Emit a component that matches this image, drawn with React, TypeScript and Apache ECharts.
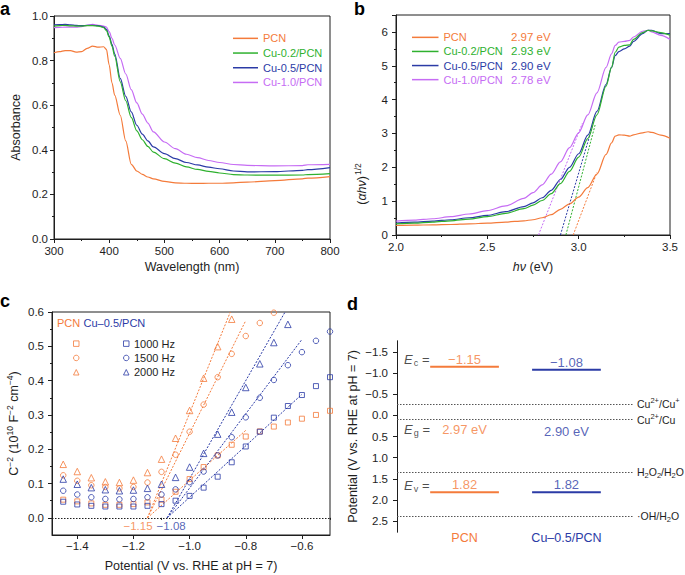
import React, { useEffect, useRef } from 'react';
import * as echarts from 'echarts';

// ---------- colours & fonts ----------
const ORANGE = '#F47B3B';
const GREEN = '#2FB12F';
const BLUE = '#2B3BA6';
const PURPLE = '#C66CF4';
const INK = '#1e1e1e';
const FONT = '"Liberation Sans", Arial, Helvetica, sans-serif';

// ---------- panel a : absorbance ----------
const wavelengths = [300, 310, 320, 330, 340, 350, 360, 370, 380, 390, 395, 400, 405, 410, 420, 430, 440, 450, 460, 470, 480, 500, 520, 540, 560, 580, 600, 625, 650, 700, 750, 760, 800];
const absPCN = [0.835, 0.84, 0.845, 0.845, 0.838, 0.84, 0.855, 0.865, 0.86, 0.862, 0.85, 0.78, 0.7, 0.645, 0.555, 0.44, 0.335, 0.305, 0.29, 0.278, 0.27, 0.258, 0.252, 0.25, 0.249, 0.25, 0.25, 0.252, 0.255, 0.262, 0.27, 0.273, 0.28];
const absCu02 = [0.955, 0.957, 0.958, 0.956, 0.955, 0.955, 0.957, 0.957, 0.955, 0.948, 0.935, 0.905, 0.865, 0.82, 0.705, 0.62, 0.545, 0.485, 0.445, 0.415, 0.39, 0.36, 0.34, 0.323, 0.312, 0.303, 0.296, 0.289, 0.287, 0.286, 0.287, 0.289, 0.293];
const absCu05 = [0.96, 0.961, 0.962, 0.96, 0.958, 0.957, 0.958, 0.958, 0.957, 0.95, 0.94, 0.91, 0.873, 0.83, 0.72, 0.64, 0.57, 0.51, 0.47, 0.44, 0.413, 0.383, 0.36, 0.343, 0.332, 0.322, 0.315, 0.305, 0.301, 0.302, 0.308, 0.311, 0.32];
const absCu10 = [0.948, 0.949, 0.95, 0.95, 0.95, 0.952, 0.958, 0.962, 0.958, 0.955, 0.95, 0.93, 0.9, 0.87, 0.81, 0.74, 0.67, 0.61, 0.56, 0.52, 0.48, 0.435, 0.405, 0.38, 0.365, 0.352, 0.343, 0.334, 0.33, 0.328, 0.329, 0.333, 0.335];

const sampleNames = ['PCN', 'Cu-0.2/PCN', 'Cu-0.5/PCN', 'Cu-1.0/PCN'];
const sampleColors = [ORANGE, GREEN, BLUE, PURPLE];

// ---------- panel b : Tauc plot ----------
const energies = [2.0, 2.1, 2.2, 2.3, 2.4, 2.5, 2.6, 2.7, 2.75, 2.8, 2.85, 2.9, 2.95, 3.0, 3.05, 3.1, 3.15, 3.18, 3.2, 3.22, 3.25, 3.28, 3.3, 3.35, 3.38, 3.4, 3.45, 3.5];
const taucPCN = [0.28, 0.29, 0.3, 0.31, 0.33, 0.35, 0.38, 0.42, 0.45, 0.51, 0.6, 0.76, 0.92, 1.12, 1.4, 1.8, 2.38, 2.72, 2.92, 2.96, 2.95, 2.92, 2.96, 3.02, 3.05, 3.03, 2.95, 2.86];
const taucCu02 = [0.33, 0.35, 0.38, 0.42, 0.47, 0.54, 0.64, 0.78, 0.88, 1.02, 1.22, 1.52, 1.88, 2.3, 2.85, 3.55, 4.4, 4.95, 5.4, 5.55, 5.6, 5.62, 5.78, 5.98, 6.05, 6.03, 5.98, 5.9];
const taucCu05 = [0.35, 0.38, 0.41, 0.45, 0.51, 0.58, 0.69, 0.84, 0.95, 1.1, 1.32, 1.64, 2.0, 2.4, 2.95, 3.65, 4.45, 4.95, 5.3, 5.42, 5.5, 5.58, 5.72, 5.95, 6.05, 6.05, 5.95, 5.95];
const taucCu10 = [0.41, 0.44, 0.48, 0.54, 0.62, 0.72, 0.86, 1.08, 1.25, 1.48, 1.8, 2.16, 2.58, 3.02, 3.55, 4.2, 4.95, 5.35, 5.6, 5.7, 5.72, 5.75, 5.85, 6.02, 6.05, 6.0, 5.9, 5.78];
const bandGaps = [2.97, 2.93, 2.9, 2.78];
const tangentEndX = [3.1, 3.09, 3.075, 3.02];
const tangentEndY = [1.85, 3.25, 3.2, 3.3];

// ---------- panel c : Mott–Schottky ----------
const potentials = [-1.45, -1.4, -1.35, -1.3, -1.25, -1.2, -1.15, -1.1, -1.05, -1.0, -0.95, -0.9, -0.85, -0.8, -0.75, -0.7, -0.65, -0.6, -0.55, -0.5];
const msPCN1000 = [0.053, 0.048, 0.042, 0.038, 0.038, 0.04, 0.045, 0.053, 0.076, 0.113, 0.148, 0.182, 0.213, 0.237, 0.252, 0.266, 0.278, 0.289, 0.3, 0.312];
const msPCN1500 = [0.124, 0.108, 0.095, 0.09, 0.086, 0.09, 0.103, 0.134, 0.184, 0.251, 0.33, 0.41, 0.478, 0.53, 0.568, 0.598, null, null, null, null];
const msPCN2000 = [0.156, 0.135, 0.117, 0.105, 0.103, 0.11, 0.132, 0.171, 0.232, 0.313, 0.407, 0.499, 0.579, null, null, null, null, null, null, null];
const msCu1000 = [0.047, 0.039, 0.035, 0.033, 0.033, 0.033, 0.035, 0.04, 0.05, 0.064, 0.088, 0.12, 0.162, 0.208, 0.251, 0.292, 0.326, 0.358, 0.384, 0.41];
const msCu1500 = [0.079, 0.068, 0.06, 0.055, 0.054, 0.055, 0.06, 0.068, 0.083, 0.104, 0.135, 0.182, 0.235, 0.293, 0.35, 0.402, 0.445, 0.483, 0.516, 0.543];
const msCu2000 = [0.113, 0.098, 0.088, 0.082, 0.079, 0.081, 0.086, 0.098, 0.118, 0.148, 0.188, 0.244, 0.308, 0.38, 0.449, 0.511, 0.564, null, null, null];
const frequencies = ['1000 Hz', '1500 Hz', '2000 Hz'];
const msSymbols = ['rect', 'circle', 'triangle'];
const flatBandPCN = -1.15;
const flatBandCu = -1.08;
const fitEndPCNX = [-0.8, -0.8, -0.855];
const fitEndPCNY = [0.255, 0.575, 0.6];
const fitEndCuX = [-0.6, -0.6, -0.66];
const fitEndCuY = [0.36, 0.52, 0.6];

// ---------- panel d : band positions ----------
const bandSamples = ['PCN', 'Cu\u20130.5/PCN'];
const bandColors = [ORANGE, BLUE];
const bandEc = [-1.15, -1.08];
const bandEv = [1.82, 1.82];
const bandEg = [2.97, 2.9];
const redoxNames = ['Cu{sup|2+}/Cu{sup|+}', 'Cu{sup|2+}/Cu', 'H{sub|2}O{sub|2}/H{sub|2}O', '\u00b7OH/H{sub|2}O'];
const redoxPotentials = [-0.26, 0.1, 1.35, 2.39];

// layout constants (panel d x positions, normalised 0..1)
const D_CENTERS = [0.285, 0.715];
const D_HALF = 0.145;
const D_ELABEL_X = 0.03;

const minus = (v: number, d = 1) => (v < 0 ? '\u2212' : '') + Math.abs(v).toFixed(d);
const zip = (xs: number[], ys: (number | null)[]) =>
  xs.map((x, i) => [x, ys[i]]).filter((p) => p[1] != null);

const tickStyle = { color: INK, width: 1 };
const axisBase = (extra: any) => ({
  type: 'value',
  axisLine: { show: true, onZero: false, lineStyle: { color: INK, width: 1 } },
  axisTick: { show: true, length: 4, lineStyle: tickStyle },
  minorTick: { show: true, splitNumber: 2, length: 2, lineStyle: tickStyle },
  splitLine: { show: false },
  minorSplitLine: { show: false },
  nameLocation: 'middle',
  nameTextStyle: { color: INK, fontSize: 12.5, fontFamily: FONT },
  ...extra,
  axisLabel: { color: INK, fontSize: 11.5, fontFamily: FONT, ...(extra.axisLabel || {}) },
});
const minorOnly = (extra: any) => ({
  type: 'value',
  axisLine: { show: false },
  axisLabel: { show: false },
  splitLine: { show: false },
  ...extra,
});

function buildOption() {
  const series: any[] = [];
  const absData = [absPCN, absCu02, absCu05, absCu10];
  const taucData = [taucPCN, taucCu02, taucCu05, taucCu10];

  sampleNames.forEach((name, i) => {
    series.push({
      type: 'line', name, xAxisIndex: 0, yAxisIndex: 0, data: zip(wavelengths, absData[i]),
      color: sampleColors[i], symbol: 'none', smooth: 0.3, smoothMonotone: 'x',
      lineStyle: { width: 1.2 }, z: 5 - i,
    });
  });
  sampleNames.forEach((name, i) => {
    series.push({
      type: 'line', name, xAxisIndex: 1, yAxisIndex: 1, data: zip(energies, taucData[i]),
      color: sampleColors[i], symbol: 'none', smooth: 0.3, smoothMonotone: 'x',
      lineStyle: { width: 1.2 }, z: 5 - i,
    });
  });
  sampleNames.forEach((name, i) => {
    series.push({
      type: 'line', name: name + ' tangent', xAxisIndex: 1, yAxisIndex: 1,
      data: [[bandGaps[i], 0], [tangentEndX[i], tangentEndY[i]]],
      color: sampleColors[i], symbol: 'none', lineStyle: { width: 1, type: [2, 1.5] }, silent: true,
    });
  });

  // panel c
  const pcnSets = [msPCN1000, msPCN1500, msPCN2000];
  const cuSets = [msCu1000, msCu1500, msCu2000];
  const symSizes = [5, 5.5, 6.5];
  frequencies.forEach((f, i) => {
    series.push({
      type: 'scatter', name: 'PCN ' + f, xAxisIndex: 2, yAxisIndex: 2, data: zip(potentials, pcnSets[i]),
      symbol: msSymbols[i], symbolSize: symSizes[i], z: 4,
      itemStyle: { color: 'rgba(255,255,255,0)', borderColor: ORANGE, borderWidth: 1 },
    });
    series.push({
      type: 'scatter', name: 'Cu\u20130.5/PCN ' + f, xAxisIndex: 2, yAxisIndex: 2, data: zip(potentials, cuSets[i]),
      symbol: msSymbols[i], symbolSize: symSizes[i], z: 4,
      itemStyle: { color: 'rgba(255,255,255,0)', borderColor: BLUE, borderWidth: 1 },
    });
  });
  frequencies.forEach((f, i) => {
    series.push({
      type: 'line', name: 'PCN fit ' + f, xAxisIndex: 2, yAxisIndex: 2,
      data: [[flatBandPCN, 0], [fitEndPCNX[i], fitEndPCNY[i]]],
      color: ORANGE, symbol: 'none', lineStyle: { width: 1, type: [2, 1.5] }, silent: true,
      markLine: i === 0 ? {
        silent: true, symbol: ['none', 'none'], label: { show: false },
        lineStyle: { color: INK, width: 1, type: [1.5, 1.5] },
        data: [{ yAxis: 0 }],
      } : undefined,
    });
    series.push({
      type: 'line', name: 'Cu fit ' + f, xAxisIndex: 2, yAxisIndex: 2,
      data: [[flatBandCu, 0], [fitEndCuX[i], fitEndCuY[i]]],
      color: BLUE, symbol: 'none', lineStyle: { width: 1, type: [2, 1.5] }, silent: true,
    });
  });
  series.push({
    type: 'scatter', name: 'flat band labels', xAxisIndex: 2, yAxisIndex: 2, symbolSize: 0, silent: true,
    data: [
      { value: [flatBandPCN, 0], label: { color: ORANGE, offset: [-9.5, 0] } },
      { value: [flatBandCu, 0], label: { color: BLUE, offset: [4, 0] } },
    ],
    label: {
      show: true, position: 'bottom', distance: 2.5, fontSize: 11.5, fontFamily: FONT,
      formatter: (p: any) => minus(p.value[0], 2),
    },
  });

  // panel d
  bandSamples.forEach((name, i) => {
    const x0 = D_CENTERS[i] - D_HALF;
    const x1 = D_CENTERS[i] + D_HALF;
    series.push({
      type: 'line', name: name + ' Ec', xAxisIndex: 4, yAxisIndex: 4, data: [[x0, bandEc[i]], [x1, bandEc[i]]],
      color: bandColors[i], symbol: 'none', lineStyle: { width: 2 }, silent: true,
      markLine: i === 0 ? {
        silent: true, symbol: ['none', 'none'],
        lineStyle: { color: '#555', width: 1, type: [1.5, 1.5] },
        label: {
          show: true, position: 'end', distance: 3, color: INK, fontSize: 10.5, fontFamily: FONT,
          formatter: (p: any) => p.name,
          rich: {
            sup: { fontSize: 7.5, padding: [0, 0, 7, 0], color: INK, fontFamily: FONT },
            sub: { fontSize: 7.5, padding: [6, 0, 0, 0], color: INK, fontFamily: FONT },
          },
        },
        data: redoxPotentials.map((v, k) => ({ yAxis: v, name: redoxNames[k] })),
      } : undefined,
    });
    series.push({
      type: 'line', name: name + ' Ev', xAxisIndex: 4, yAxisIndex: 4, data: [[x0, bandEv[i]], [x1, bandEv[i]]],
      color: bandColors[i], symbol: 'none', lineStyle: { width: 2 }, silent: true,
    });
    series.push({
      type: 'scatter', name: name + ' values', xAxisIndex: 4, yAxisIndex: 4, symbolSize: 0, silent: true,
      label: { show: true, position: 'inside', color: bandColors[i], fontSize: 13, fontFamily: FONT },
      data: [
        { value: [D_CENTERS[i], bandEc[i]], label: { verticalAlign: 'bottom', offset: [0, -1], formatter: minus(bandEc[i], 2) } },
        { value: [D_CENTERS[i], (bandEc[i] + bandEv[i]) / 2], label: { verticalAlign: 'middle', formatter: bandEg[i].toFixed(2) + ' eV' } },
        { value: [D_CENTERS[i], bandEv[i]], label: { verticalAlign: 'bottom', offset: [0, -1], formatter: minus(bandEv[i], 2) } },
      ],
    });
  });
  series.push({
    type: 'scatter', name: 'E labels', xAxisIndex: 4, yAxisIndex: 4, symbolSize: 0, silent: true,
    label: {
      show: true, position: 'inside', align: 'left', color: INK, fontSize: 13, fontFamily: FONT,
      rich: {
        e: { fontStyle: 'italic', fontSize: 13, color: INK, fontFamily: FONT },
        s: { fontSize: 9, padding: [7, 0, 0, 1], color: INK, fontFamily: FONT },
        t: { fontSize: 13, color: INK, fontFamily: FONT },
      },
    },
    data: [
      { value: [D_ELABEL_X, bandEc[0]], label: { verticalAlign: 'bottom', offset: [0, 1], formatter: '{e|E}{s|c}{t| =}' } },
      { value: [D_ELABEL_X, (bandEc[0] + bandEv[0]) / 2], label: { verticalAlign: 'middle', formatter: '{e|E}{s|g}{t| =}' } },
      { value: [D_ELABEL_X, bandEv[0]], label: { verticalAlign: 'bottom', offset: [0, 1], formatter: '{e|E}{s|v}{t| =}' } },
    ],
  });

  const cTicksX = [-1.4, -1.2, -1.0, -0.8, -0.6];
  const cMinorX = [-1.3, -1.1, -0.9, -0.7, -0.5];
  const cTicksY = [0, 0.1, 0.2, 0.3, 0.4, 0.5, 0.6];
  const cMinorY = [0.05, 0.15, 0.25, 0.35, 0.45, 0.55];
  const dTicks = [-1.5, -1.0, -0.5, 0, 0.5, 1.0, 1.5, 2.0, 2.5];

  const legendText = { fontFamily: FONT, fontSize: 11 };

  return {
    animation: false,
    backgroundColor: '#ffffff',
    textStyle: { fontFamily: FONT },
    grid: [
      { left: 54, top: 16, width: 276, height: 223, show: true, borderColor: INK, borderWidth: 1 },
      { left: 396, top: 15, width: 274, height: 220, show: true, borderColor: INK, borderWidth: 1 },
      { left: 52, top: 312, width: 278, height: 223, show: true, borderColor: INK, borderWidth: 1 },
      { left: 397, top: 341, width: 237, height: 191, show: false },
    ],
    xAxis: [
      axisBase({ gridIndex: 0, position: 'bottom', min: 300, max: 800, interval: 100, name: 'Wavelength (nm)', nameGap: 21, axisLabel: { margin: 6 } }),
      axisBase({
        gridIndex: 1, position: 'bottom', min: 2, max: 3.5, interval: 0.5, name: '{i|h\u03bd} (eV)', nameGap: 25,
        nameTextStyle: { color: INK, fontSize: 12.5, fontFamily: FONT, rich: { i: { fontStyle: 'italic', fontSize: 12.5, fontFamily: FONT, color: INK } } },
        axisLabel: { margin: 6, formatter: (v: number) => v.toFixed(1) },
      }),
      axisBase({
        gridIndex: 2, position: 'bottom', min: -1.49, max: -0.5, name: 'Potential (V vs. RHE at pH = 7)', nameGap: 24,
        minorTick: { show: false },
        axisTick: { show: true, length: 4, lineStyle: tickStyle, customValues: cTicksX },
        axisLabel: { margin: 5, customValues: cTicksX, formatter: (v: number) => minus(v, 1) },
      }),
      minorOnly({ gridIndex: 2, position: 'bottom', min: -1.49, max: -0.5, axisTick: { show: true, length: 2, lineStyle: tickStyle, customValues: cMinorX } }),
      {
        type: 'value', gridIndex: 3, position: 'bottom', min: 0, max: 1,
        axisLine: { show: false }, axisTick: { show: false }, splitLine: { show: false },
        axisLabel: {
          show: true, margin: -1, fontSize: 12.5, fontFamily: FONT, customValues: D_CENTERS,
          formatter: (v: number) => bandSamples[Math.abs(v - D_CENTERS[0]) < 0.01 ? 0 : 1],
          color: (v: number) => bandColors[Math.abs(v - D_CENTERS[0]) < 0.01 ? 0 : 1],
        },
      },
    ],
    yAxis: [
      axisBase({ gridIndex: 0, position: 'left', min: 0, max: 1, interval: 0.2, name: 'Absorbance', nameGap: 32, axisLabel: { margin: 6, formatter: (v: number) => v.toFixed(1) } }),
      axisBase({ gridIndex: 1, position: 'left', min: 0, max: 6.5, interval: 1, axisLabel: { margin: 8, showMaxLabel: false } }),
      axisBase({
        gridIndex: 2, position: 'left', min: -0.05, max: 0.6, nameGap: 30,
        name: 'C{s|\u22122} (10{s|10} F{s|\u22122} cm{s|\u22124})',
        nameTextStyle: { color: INK, fontSize: 12.5, fontFamily: FONT, rich: { s: { fontSize: 8.5, padding: [0, 0, 8, 0], fontFamily: FONT, color: INK } } },
        minorTick: { show: false },
        axisTick: { show: true, length: 4, lineStyle: tickStyle, customValues: cTicksY },
        axisLabel: { margin: 8, customValues: cTicksY, formatter: (v: number) => v.toFixed(1) },
      }),
      minorOnly({ gridIndex: 2, position: 'left', min: -0.05, max: 0.6, axisTick: { show: true, length: 2, lineStyle: tickStyle, customValues: cMinorY } }),
      axisBase({
        gridIndex: 3, position: 'left', inverse: true, min: -1.76, max: 2.76, name: 'Potential (V vs. RHE at pH = 7)', nameGap: 38,
        minorTick: { show: false },
        axisTick: { show: true, length: 4, lineStyle: tickStyle, customValues: dTicks },
        axisLabel: { margin: 9, customValues: dTicks, formatter: (v: number) => minus(v, 1) },
      }),
      {
        type: 'value', gridIndex: 3, position: 'right', inverse: true, min: -1.76, max: 2.76,
        axisLine: { show: true, lineStyle: { color: INK, width: 1 } }, axisTick: { show: false },
        axisLabel: { show: false }, splitLine: { show: false },
      },
    ],
    legend: [
      {
        left: 228, top: 26, orient: 'vertical', icon: 'rect', itemWidth: 25, itemHeight: 1.5, itemGap: 0,
        selectedMode: false, textStyle: { ...legendText, lineHeight: 14.7 },
        data: sampleNames.map((n, i) => ({ name: n, textStyle: { color: sampleColors[i] } })),
      },
      {
        left: 407, top: 25.3, orient: 'vertical', icon: 'rect', itemWidth: 26.5, itemHeight: 1.5, itemGap: 0,
        selectedMode: false, textStyle: {
          ...legendText, lineHeight: 14.1,
          rich: Object.fromEntries(sampleNames.flatMap((_, i) => [
            ['n' + i, { width: 67.5, color: sampleColors[i], fontSize: 11, fontFamily: FONT }],
            ['v' + i, { color: sampleColors[i], fontSize: 11.5, fontFamily: FONT }],
          ])),
        },
        formatter: (name: string) => {
          const i = sampleNames.indexOf(name);
          return `{n${i}|${name}}{v${i}|${bandGaps[i].toFixed(2)} eV}`;
        },
        data: sampleNames.slice(),
      },
      {
        left: 68, top: 331.5, orient: 'vertical', itemWidth: 5.5, itemHeight: 5.5, itemGap: 0,
        selectedMode: false, textStyle: { ...legendText, lineHeight: 14.3 },
        itemStyle: { borderWidth: 1 },
        formatter: () => ' ',
        data: frequencies.map((f) => 'PCN ' + f),
      },
      {
        left: 118, top: 331.5, orient: 'vertical', itemWidth: 5.5, itemHeight: 5.5, itemGap: 0,
        selectedMode: false, textStyle: { ...legendText, lineHeight: 14.3, color: INK },
        itemStyle: { borderWidth: 1 },
        formatter: (name: string) => name.replace('Cu\u20130.5/PCN ', ''),
        data: frequencies.map((f) => 'Cu\u20130.5/PCN ' + f),
      },
    ],
    graphic: [
      { type: 'text', left: 0, top: 0, style: { text: 'a', font: `bold 18px ${FONT}`, fill: '#000' } },
      { type: 'text', left: 354, top: 0, style: { text: 'b', font: `bold 18px ${FONT}`, fill: '#000' } },
      { type: 'text', left: 0, top: 292, style: { text: 'c', font: `bold 18px ${FONT}`, fill: '#000' } },
      { type: 'text', left: 347, top: 295, style: { text: 'd', font: `bold 18px ${FONT}`, fill: '#000' } },
      {
        type: 'text', x: 362, y: 184, rotation: Math.PI / 2,
        style: {
          text: '{p|(}{i|\u03b1h\u03bd}{p|)}{s|1/2}', align: 'center', verticalAlign: 'middle', fill: INK,
          rich: {
            p: { fontSize: 12.5, fontFamily: FONT, fill: INK },
            i: { fontSize: 12.5, fontFamily: FONT, fontStyle: 'italic', fill: INK },
            s: { fontSize: 8.5, fontFamily: FONT, padding: [0, 0, 8, 1], fill: INK },
          },
        },
      },
      {
        type: 'text', x: 57, y: 322.7,
        style: {
          text: '{o|PCN} {b|Cu\u20130.5/PCN}', align: 'left', verticalAlign: 'middle',
          rich: {
            o: { fontSize: 11, fontFamily: FONT, fill: ORANGE },
            b: { fontSize: 11, fontFamily: FONT, fill: BLUE },
          },
        },
      },
    ],
    series,
  };
}

export default function App() {
  const ref = useRef<HTMLDivElement>(null);
  useEffect(() => {
    const chart = echarts.init(ref.current!, null, { renderer: 'svg' });
    chart.setOption(buildOption() as any);
    return () => chart.dispose();
  }, []);
  return (
    <div
      ref={ref}
      style={{ position: 'absolute', left: 0, top: 0, width: 685, height: 575, background: '#fff' }}
    />
  );
}
